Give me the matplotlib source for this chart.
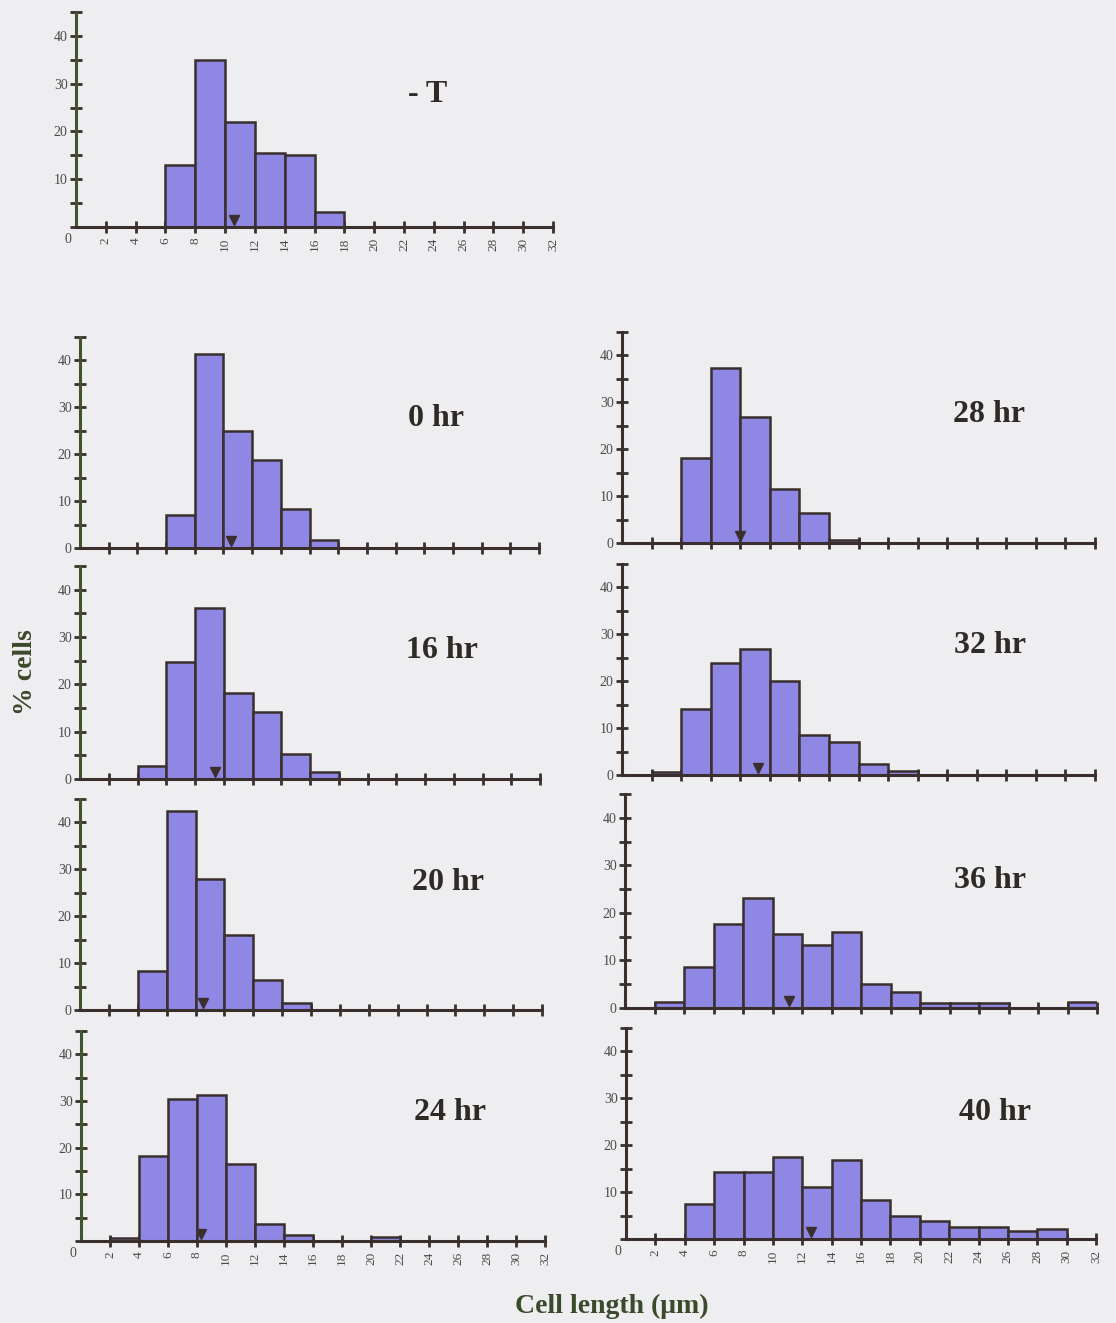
import matplotlib
matplotlib.use("Agg")
import matplotlib.pyplot as plt
from matplotlib.ticker import MultipleLocator

plt.rcParams["font.family"] = ["Liberation Serif", "DejaVu Serif"]

W, H = 1116, 1323

# 2 um bins from 0 to 32
bin_left = list(range(0, 32, 2))

# % cells per bin
no_t = [0, 0, 0, 13.0, 35.0, 22.0, 15.5, 15.0, 3.2, 0, 0, 0, 0, 0, 0, 0]
hr_0 = [0, 0, 0, 7.1, 41.4, 24.9, 18.7, 8.4, 1.8, 0, 0, 0, 0, 0, 0, 0]
hr_16 = [0, 0, 2.8, 24.8, 36.1, 18.1, 14.2, 5.3, 1.5, 0, 0, 0, 0, 0, 0, 0]
hr_20 = [0, 0, 8.3, 42.5, 27.9, 16.0, 6.4, 1.4, 0, 0, 0, 0, 0, 0, 0, 0]
hr_24 = [0, 0.6, 18.2, 30.5, 31.2, 16.6, 3.6, 1.3, 0, 0, 0.8, 0, 0, 0, 0, 0]
hr_28 = [0, 0, 18.2, 37.4, 26.8, 11.5, 6.4, 0.7, 0, 0, 0, 0, 0, 0, 0, 0]
hr_32 = [0, 0.6, 14.1, 23.8, 26.8, 20.0, 8.5, 7.0, 2.3, 0.9, 0, 0, 0, 0, 0, 0]
hr_36 = [0, 1.3, 8.6, 17.6, 23.2, 15.5, 13.2, 16.0, 5.0, 3.3, 1.0, 1.0, 1.0, 0, 0, 1.3]
hr_40 = [0, 0, 7.4, 14.2, 14.2, 17.4, 11.0, 16.9, 8.3, 4.9, 3.8, 2.5, 2.6, 1.7, 2.1, 0]

# mean cell length (triangle marker)
means = [10.6, 10.5, 9.4, 8.5, 8.3, 8.0, 9.2, 11.1, 12.6]
names = ["- T", "0 hr", "16 hr", "20 hr", "24 hr", "28 hr", "32 hr", "36 hr", "40 hr"]
series = [no_t, hr_0, hr_16, hr_20, hr_24, hr_28, hr_32, hr_36, hr_40]

# pixel boxes: x at 0, x at 32, y at 0, y at 45
boxes = [
    (76, 553, 227, 12),
    (80, 539, 548, 337),
    (80, 540, 779, 566),
    (80, 542, 1010, 799),
    (81, 545, 1241, 1031),
    (622, 1095, 543, 332),
    (622, 1095, 775, 564),
    (625, 1097, 1008, 794),
    (626, 1096, 1239, 1028),
]
label_pos = [(428, 95), (436, 418), (442, 650), (448, 882), (450, 1113),
             (989, 415), (990, 646), (990, 880), (995, 1113)]
show_x = [True, False, False, False, True, False, False, False, True]
left_col = [True, True, True, True, True, False, False, False, False]

bg = "#eeeef0"
fill = "#8e87e3"
dark = "#3a2f2c"
green = "#41552c"
tick_grey = "#4a4a4a"

fig = plt.figure(figsize=(W / 100, H / 100), dpi=100, facecolor=bg)

for i in range(9):
    x0, x32, y0, ytop = boxes[i]
    ax = fig.add_axes([x0 / W, 1 - y0 / H, (x32 - x0) / W, (y0 - ytop) / H])
    ax.set_facecolor("none")
    ax.set_xlim(0, 32)
    ax.set_ylim(0, 45)

    lefts = [b for b, v in zip(bin_left, series[i]) if v > 0]
    vals = [v for v in series[i] if v > 0]
    ax.bar(lefts, vals, width=2, align="edge", color=fill,
           edgecolor=dark, linewidth=1.8, zorder=2)
    ax.plot(means[i], 1.5, marker="v", color=dark, markersize=7, zorder=4,
            clip_on=False)

    for s in ["top", "right"]:
        ax.spines[s].set_visible(False)
    ax.spines["bottom"].set_color(dark)
    ax.spines["left"].set_color(green if left_col[i] else dark)
    ax.spines["bottom"].set_linewidth(2.2)
    ax.spines["left"].set_linewidth(2.2)
    ax.spines["bottom"].set_zorder(3)

    ax.xaxis.set_major_locator(MultipleLocator(2))
    ax.yaxis.set_major_locator(MultipleLocator(10))
    ax.yaxis.set_minor_locator(MultipleLocator(5))
    ax.tick_params(axis="both", which="both", direction="inout",
                   length=8, width=2, color=dark, labelcolor=tick_grey)
    ax.tick_params(axis="y", labelsize=10, pad=2)

    ax.set_xticks(range(2, 33, 2))
    if show_x[i]:
        ax.set_xticklabels([str(t) for t in range(2, 33, 2)], rotation=90,
                           fontsize=9.5)
        ax.set_yticks([10, 20, 30, 40])
        ax.text(-0.55, -2.6, "0", ha="center", va="center", fontsize=10,
                color=tick_grey)
    else:
        ax.set_xticklabels([])

    lx, ly = label_pos[i]
    fig.text(lx / W, 1 - ly / H, names[i], ha="center", va="center",
             fontsize=23, fontweight="bold", color="#2f2a26")

fig.text(25 / W, 1 - 672 / H, "% cells", rotation=90, ha="center", va="center",
         fontsize=20, fontweight="bold", color="#3a4a2a")
fig.text(612 / W, 1 - 1306 / H, "Cell length (\u03bcm)", ha="center",
         va="center", fontsize=20, fontweight="bold", color="#3a4a2a")

fig.savefig("out.png", dpi=100, facecolor=bg)
